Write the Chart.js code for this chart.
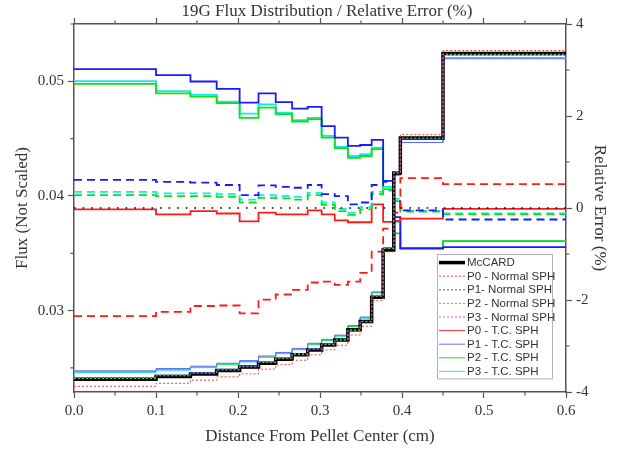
<!DOCTYPE html>
<html>
<head>
<meta charset="utf-8">
<title>19G Flux Distribution</title>
<script src="https://cdn.jsdelivr.net/npm/chart.js@4.4.1/dist/chart.umd.min.js"></script>
<style>
  body { margin: 0; background: #fff; }
  canvas { display: block; }
</style>
</head>
<body>
<canvas id="chart" width="621" height="452"></canvas>
<script>
// ring edges along the radius (cm), one value per ring below
const edges = [0, 0.1, 0.142, 0.174, 0.202, 0.225, 0.246, 0.266, 0.285, 0.302, 0.318, 0.334, 0.349, 0.363, 0.377, 0.390, 0.398, 0.45, 0.6];

// flux, left axis
const mccard = [0.02402, 0.02425, 0.02448, 0.02477, 0.02507, 0.02541, 0.02576, 0.02614, 0.02657, 0.02701, 0.02744, 0.02832, 0.02904, 0.03117, 0.03529, 0.04201, 0.04506, 0.05242];
const normP0 = [0.02340, 0.02366, 0.02393, 0.02422, 0.02448, 0.02490, 0.02528, 0.02567, 0.02614, 0.02658, 0.02698, 0.02787, 0.02863, 0.03087, 0.03513, 0.04197, 0.04535, 0.05269];
const normP1 = [0.02417, 0.02439, 0.02461, 0.02489, 0.02514, 0.02553, 0.02588, 0.02626, 0.02670, 0.02709, 0.02751, 0.02834, 0.02907, 0.03133, 0.03549, 0.04207, 0.04504, 0.05229];
const normP2 = [0.02409, 0.02431, 0.02454, 0.02483, 0.02510, 0.02547, 0.02581, 0.02619, 0.02664, 0.02703, 0.02742, 0.02828, 0.02903, 0.03126, 0.03542, 0.04207, 0.04502, 0.05235];
const normP3 = [0.02410, 0.02433, 0.02456, 0.02484, 0.02511, 0.02548, 0.02583, 0.02620, 0.02666, 0.02704, 0.02743, 0.02829, 0.02905, 0.03128, 0.03544, 0.04209, 0.04503, 0.05236];
const tcP0 = [0.02401, 0.02422, 0.02446, 0.02474, 0.02500, 0.02539, 0.02572, 0.02610, 0.02656, 0.02697, 0.02737, 0.02823, 0.02895, 0.03119, 0.03518, 0.04189, 0.04496, 0.05241];
const tcP1 = [0.02475, 0.02495, 0.02515, 0.02541, 0.02564, 0.02604, 0.02635, 0.02670, 0.02715, 0.02749, 0.02786, 0.02870, 0.02944, 0.03163, 0.03550, 0.04193, 0.04466, 0.05197];
const tcP2 = [0.02467, 0.02485, 0.02507, 0.02533, 0.02556, 0.02596, 0.02629, 0.02663, 0.02708, 0.02742, 0.02780, 0.02863, 0.02937, 0.03157, 0.03543, 0.04178, 0.04467, 0.05204];
const tcP3 = [0.02460, 0.02480, 0.02502, 0.02528, 0.02552, 0.02592, 0.02624, 0.02659, 0.02704, 0.02739, 0.02777, 0.02860, 0.02934, 0.03155, 0.03545, 0.04188, 0.04467, 0.05204];

// relative error (%), right axis
const errNormP0 = [-2.35, -2.26, -2.13, -2.12, -2.29, -1.99, -1.88, -1.78, -1.62, -1.60, -1.67, -1.60, -1.41, -0.95, -0.45, -0.10, 0.65, 0.52];
const errNormP1 = [0.61, 0.57, 0.55, 0.50, 0.28, 0.49, 0.46, 0.44, 0.50, 0.30, 0.26, 0.08, 0.12, 0.50, 0.57, 0.15, -0.05, -0.25];
const errNormP2 = [0.28, 0.26, 0.26, 0.24, 0.12, 0.22, 0.21, 0.18, 0.28, 0.07, -0.07, -0.15, -0.03, 0.30, 0.38, 0.15, -0.08, -0.14];
const errNormP3 = [0.35, 0.32, 0.32, 0.30, 0.18, 0.28, 0.26, 0.24, 0.33, 0.12, -0.02, -0.10, 0.02, 0.35, 0.42, 0.20, -0.06, -0.12];
const errTcP0 = [-0.03, -0.14, -0.07, -0.12, -0.29, -0.10, -0.14, -0.14, -0.05, -0.14, -0.27, -0.31, -0.31, 0.08, -0.30, -0.28, -0.23, -0.02];
const errTcP1 = [3.02, 2.89, 2.75, 2.59, 2.29, 2.49, 2.30, 2.16, 2.20, 1.78, 1.53, 1.35, 1.37, 1.48, 0.59, -0.20, -0.88, -0.85];
const errTcP2 = [2.70, 2.49, 2.42, 2.28, 1.96, 2.18, 2.04, 1.88, 1.93, 1.53, 1.30, 1.09, 1.13, 1.28, 0.41, -0.55, -0.87, -0.72];
const errTcP3 = [2.76, 2.54, 2.46, 2.31, 2.05, 2.25, 2.07, 1.91, 1.96, 1.57, 1.33, 1.13, 1.17, 1.31, 0.46, -0.30, -0.87, -0.72];
const zeroEdges = [0, 0.6];
const zeroLine = [0, 0];

const chartTitle = '19G Flux Distribution / Relative Error (%)';
const axisColor = '#555';
const textColor = '#333';
const serif = '"Liberation Serif", "Times New Roman", serif';

// each ring value holds until the next edge
function steps(vals, xs) {
    xs = xs || edges;
    return xs.map((x, i) => ({x: x, y: vals[Math.min(i, vals.length - 1)]}));
}

function isMultiple(v, step) {
    const r = v / step;
    return Math.abs(r - Math.round(r)) < 1e-6;
}

function line(label, vals, color, width, dash, axis, legendRow) {
    return {
        label: label,
        data: steps(vals),
        borderColor: color,
        borderWidth: width,
        borderDash: dash,
        yAxisID: axis,
        stepped: true,
        pointRadius: 0,
        fill: false,
        legendRow: legendRow
    };
}

const datasets = [
    line('P0 - Normal SPH', normP0, '#ff4040', 1, [2, 2], 'y', 1),
    line('P1- Normal SPH', normP1, '#5050ff', 1, [2, 2], 'y', 2),
    line('P2 - Normal SPH', normP2, '#30e030', 1, [2, 2], 'y', 3),
    line('P3 - Normal SPH', normP3, '#ff40ff', 1, [2, 2], 'y', 4),
    line('McCARD', mccard, '#000000', 3.5, [], 'y', 0),
    line('P0 - T.C. SPH', tcP0, '#ff3030', 1, [], 'y', 5),
    line('P1 - T.C. SPH', tcP1, '#6a6aff', 1, [], 'y', 6),
    line('P2 - T.C. SPH', tcP2, '#20e020', 1, [], 'y', 7),
    line('P3 - T.C. SPH', tcP3, '#20e8e8', 1, [], 'y', 8),
    {
        label: 'zero', data: steps(zeroLine, zeroEdges), borderColor: '#000', borderWidth: 1.6,
        borderDash: [1.6, 7], yAxisID: 'y2', pointRadius: 0, fill: false
    },
    line('err P0 normal', errNormP0, '#ff1a1a', 1.8, [8, 5], 'y2'),
    line('err P1 normal', errNormP1, '#1a1aff', 1.8, [8, 5], 'y2'),
    line('err P2 normal', errNormP2, '#10e010', 1.8, [8, 5], 'y2'),
    line('err P3 normal', errNormP3, '#10eaea', 1.8, [8, 5], 'y2'),
    line('err P0 tc', errTcP0, '#ff1a1a', 1.8, [], 'y2'),
    line('err P1 tc', errTcP1, '#1a1aff', 1.8, [], 'y2'),
    line('err P2 tc', errTcP2, '#10e010', 1.8, [], 'y2'),
    line('err P3 tc', errTcP3, '#10eaea', 1.8, [], 'y2')
];

// legend box drawn inside the plot, lower right
const boxLegend = {
    id: 'boxLegend',
    afterDatasetsDraw(chart) {
        const {ctx, chartArea} = chart;
        const rows = chart.data.datasets.filter(d => d.legendRow !== undefined)
            .sort((a, b) => a.legendRow - b.legendRow);
        const w = 115, rowH = 13.6;
        const h = rows.length * rowH + 2;
        const right = chartArea.right - 14, bottom = chartArea.bottom - 14;
        const left = right - w, top = bottom - h;
        ctx.save();
        ctx.fillStyle = '#fff';
        ctx.fillRect(left, top, w, h);
        ctx.strokeStyle = '#b4b4b4';
        ctx.lineWidth = 1;
        ctx.strokeRect(Math.round(left) + 0.5, Math.round(top) + 0.5, w, h);
        ctx.font = '11.5px "Liberation Sans", Arial, sans-serif';
        ctx.textBaseline = 'middle';
        rows.forEach((d, i) => {
            const y = top + 9 + i * rowH;
            ctx.strokeStyle = d.borderColor;
            ctx.lineWidth = d.borderWidth;
            ctx.setLineDash(d.borderDash || []);
            ctx.beginPath();
            ctx.moveTo(left + 2, y);
            ctx.lineTo(left + 28, y);
            ctx.stroke();
            ctx.setLineDash([]);
            ctx.fillStyle = textColor;
            ctx.fillText(d.label, left + 30, y + 0.5);
        });
        ctx.restore();
    }
};

// short minor ticks; the long major ones come from the scales. also the title, a bit right of centre
const minorTicks = {
    id: 'minorTicks',
    afterDraw(chart) {
        const {ctx, chartArea: a, scales} = chart;
        const len = 3.5;
        ctx.save();
        ctx.strokeStyle = axisColor;
        ctx.lineWidth = 1.2;
        ctx.beginPath();
        scales.x.ticks.forEach(t => {
            if (isMultiple(t.value, 0.1)) return;
            const px = scales.x.getPixelForValue(t.value);
            ctx.moveTo(px, a.bottom); ctx.lineTo(px, a.bottom + len);
            ctx.moveTo(px, a.top); ctx.lineTo(px, a.top - len);
        });
        scales.y.ticks.forEach(t => {
            if (isMultiple(t.value, 0.01)) return;
            const py = scales.y.getPixelForValue(t.value);
            ctx.moveTo(a.left, py); ctx.lineTo(a.left - len, py);
        });
        scales.y2.ticks.forEach(t => {
            if (isMultiple(t.value, 2)) return;
            const py = scales.y2.getPixelForValue(t.value);
            ctx.moveTo(a.right, py); ctx.lineTo(a.right + len, py);
        });
        ctx.stroke();

        ctx.font = '17px ' + serif;
        ctx.fillStyle = textColor;
        ctx.textAlign = 'center';
        ctx.textBaseline = 'middle';
        ctx.fillText(chartTitle, (a.left + a.right) / 2 + 7, 12);
        ctx.restore();
    }
};

function gridFor(step) {
    return {
        drawOnChartArea: false,
        drawTicks: true,
        tickLength: 6,
        tickWidth: 1.2,
        tickColor: c => (c.tick && isMultiple(c.tick.value, step)) ? axisColor : 'rgba(0,0,0,0)'
    };
}

const tickFont = {family: serif, size: 15};
const titleFont = {family: serif, size: 17};
const border = {display: true, color: axisColor, width: 1.5};

new Chart(document.getElementById('chart'), {
    type: 'line',
    data: {datasets: datasets},
    plugins: [boxLegend, minorTicks],
    options: {
        responsive: false,
        animation: false,
        devicePixelRatio: 1,
        events: [],
        layout: {padding: 0},
        plugins: {legend: {display: false}, tooltip: {enabled: false}, title: {display: false}},
        scales: {
            x: {
                type: 'linear', position: 'bottom', min: 0, max: 0.6,
                border: border, grid: gridFor(0.1),
                ticks: {
                    stepSize: 0.05, includeBounds: false, autoSkip: false, maxRotation: 0,
                    padding: 4, color: textColor, font: tickFont,
                    callback: v => isMultiple(v, 0.1) ? v.toFixed(1) : ''
                },
                title: {display: true, text: 'Distance From Pellet Center (cm)', color: textColor, font: titleFont, padding: {top: 0, bottom: 5}},
                afterFit: s => { s.height = 60; }
            },
            x2: {
                type: 'linear', position: 'top', min: 0, max: 0.6,
                border: border, grid: gridFor(0.1),
                ticks: {stepSize: 0.05, includeBounds: false, autoSkip: false, display: false},
                afterFit: s => { s.height = 24; }
            },
            y: {
                type: 'linear', position: 'left', min: 0.0229, max: 0.055,
                border: border, grid: gridFor(0.01),
                ticks: {
                    stepSize: 0.005, includeBounds: false, autoSkip: false,
                    padding: 4, color: textColor, font: tickFont,
                    callback: v => isMultiple(v, 0.01) ? v.toFixed(2) : ''
                },
                title: {display: true, text: 'Flux (Not Scaled)', color: textColor, font: titleFont, padding: {top: 12, bottom: 0}},
                afterFit: s => { s.width = 74; }
            },
            y2: {
                type: 'linear', position: 'right', min: -4, max: 4,
                border: border, grid: gridFor(2),
                ticks: {
                    stepSize: 1, includeBounds: false, autoSkip: false,
                    padding: 4, color: textColor, font: tickFont,
                    callback: v => isMultiple(v, 2) ? String(v) : ''
                },
                title: {display: true, text: 'Relative Error (%)', color: textColor, font: titleFont, padding: {top: 11, bottom: 0}},
                afterFit: s => { s.width = 55; }
            }
        }
    }
});
</script>
</body>
</html>
